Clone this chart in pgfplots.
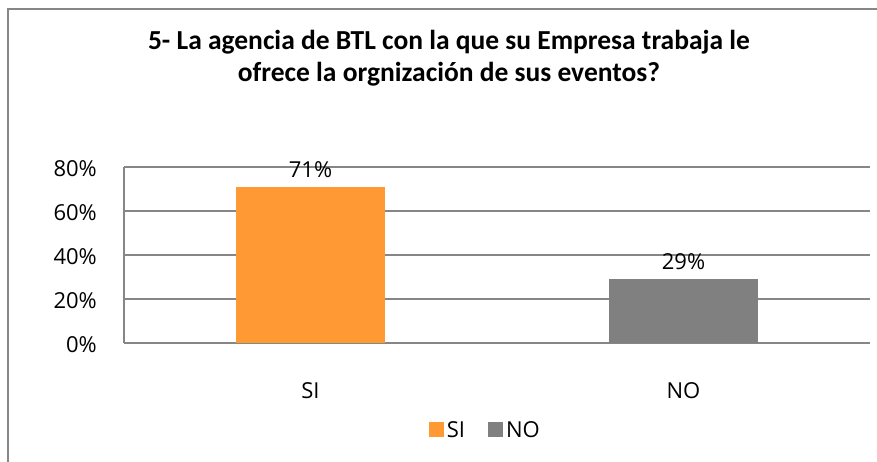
\documentclass[border=0pt]{standalone}
\usepackage{pgfplots}
\pgfplotsset{compat=1.18}
\usepackage{fontspec}
\setmainfont{Open Sans}
\newfontfamily\titlefont{Carlito}
\definecolor{barorange}{HTML}{FF9933}
\definecolor{bargray}{HTML}{808080}
\definecolor{linegray}{HTML}{868686}
\begin{document}
\begin{tikzpicture}
\useasboundingbox (0pt,0pt) rectangle (877pt,462pt);
\draw[linegray, line width=1.5pt] (8pt,0pt) -- (8pt,453pt) -- (877pt,453pt);
\node[font=\titlefont\bfseries\fontsize{27.5}{32}\selectfont, anchor=base] at (449pt,412pt) {5- La agencia de BTL con la que su Empresa trabaja le};
\node[font=\titlefont\bfseries\fontsize{27.5}{32}\selectfont, anchor=base] at (449pt,380pt) {ofrece la orgnización de sus eventos?};
\begin{axis}[
  at={(124pt,119pt)}, anchor=south west,
  scale only axis, width=746pt, height=176pt,
  xmin=-0.5, xmax=1.5, ymin=0, ymax=80,
  ytick={0,20,40,60,80},
  yticklabels={0\%,20\%,40\%,60\%,80\%},
  xtick={0,1}, xticklabels={SI,NO},
  /pgf/number format/assume math mode=true,
  ymajorgrids,
  grid style={linegray, line width=1.3pt},
  axis x line*=bottom, axis y line*=left,
  axis line style={linegray, line width=1.3pt},
  major tick length=0pt,
  tick label style={font=\fontsize{22}{26}\selectfont},
  yticklabel style={anchor=east, inner sep=0pt, xshift=-27pt, yshift=-2pt},
  xticklabel style={anchor=north, inner sep=0pt, yshift=-39pt},
  ybar, bar width=0.4,
  nodes near coords={\pgfmathprintnumber{\pgfplotspointmeta}\%},
  nodes near coords style={font=\fontsize{22}{26}\selectfont, inner sep=0pt, yshift=9pt, text=black},
  legend style={at={(0.485,-0.494)}, anchor=center, draw=none, fill=none,
    legend columns=2, font=\fontsize{22}{26}\selectfont,
    /tikz/every even column/.append style={column sep=20pt},
    nodes={inner sep=3pt}},
  legend image code/.code={\fill[#1] (0pt,-7.5pt) rectangle (15pt,7.5pt);},
]
\addplot[fill=barorange, draw=none, bar shift=0pt] coordinates {(0,71)};
\addlegendentry{SI}
\addplot[fill=bargray, draw=none, bar shift=0pt] coordinates {(1,29)};
\addlegendentry{NO}
\end{axis}
\end{tikzpicture}
\end{document}
